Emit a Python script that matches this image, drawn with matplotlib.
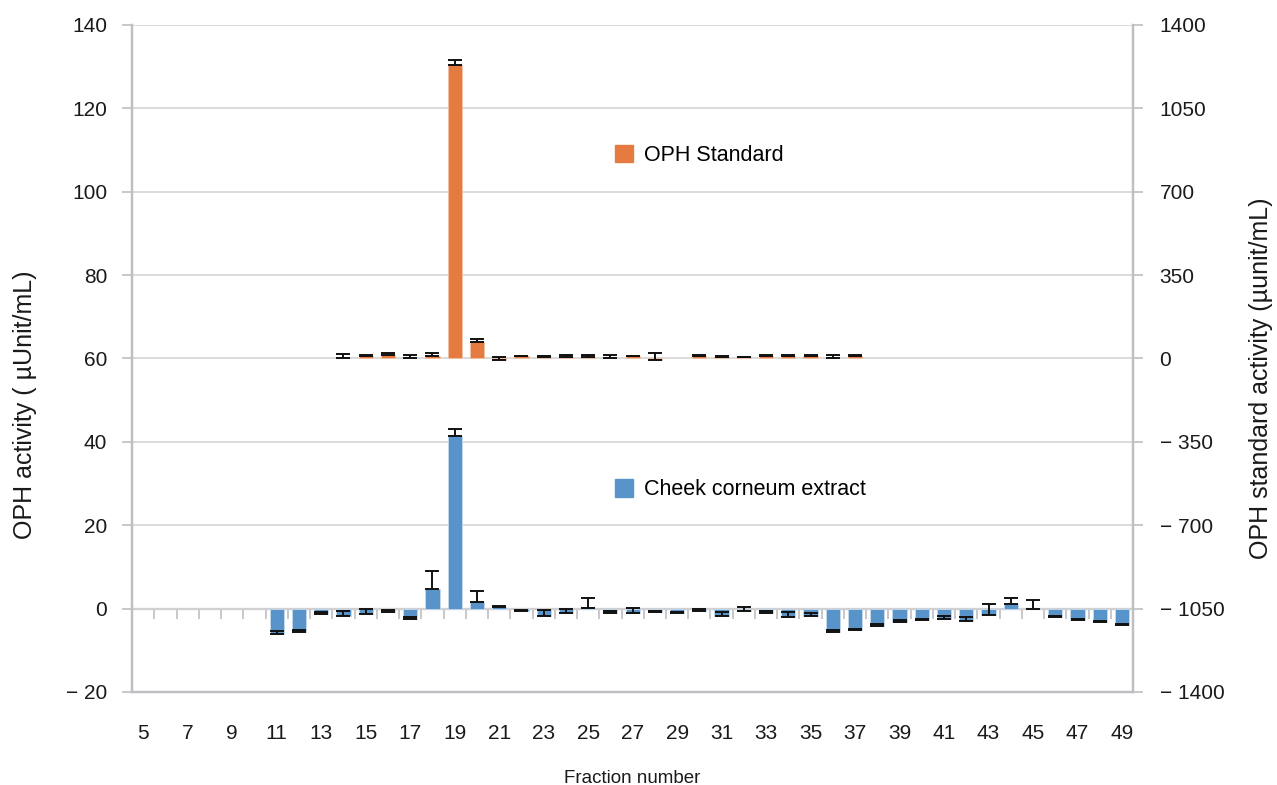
import numpy as np
import matplotlib
matplotlib.use("Agg")
import matplotlib.pyplot as plt
from matplotlib.patches import Patch
from matplotlib.ticker import FixedLocator, FuncFormatter, NullFormatter

plt.rcParams['font.family'] = ['Liberation Sans', 'DejaVu Sans']

fractions = list(range(5, 50))
nan = np.nan

# Cheek corneum extract, left axis (µUnit/mL), fractions 5..49
cheek = [nan, nan, nan, nan, nan, nan,
         -6.0, -5.5, -1.2, -1.8, -1.2, -0.8, -2.4, 4.6, 41.3, 1.7,
         0.3, -0.5, -1.8, -1.0, 0.2, -1.0, -1.0, -0.8, -1.0, -0.5,
         -1.8, -0.6, -1.0, -2.0, -1.8, -5.6, -5.1, -4.2, -3.3, -2.7,
         -2.4, -3.0, -1.5, 1.0, 0.0, -2.0, -2.8, -3.2, -3.9]
cheek_err = [0, 0, 0, 0, 0, 0,
             0.6, 0.3, 0.4, 1.3, 1.2, 0.5, 0.3, 4.4, 1.9, 2.6,
             0.4, 0.2, 1.4, 1.0, 2.4, 0.5, 1.1, 0.2, 0.3, 0.3,
             1.0, 0.9, 0.4, 1.1, 0.8, 0.4, 0.3, 0.4, 0.6, 0.2,
             0.6, 1.0, 2.5, 1.6, 2.1, 0.2, 0.2, 0.2, 0.2]

# OPH standard, right axis, fractions 5..49
standard = [nan] * 9 + [
    3, 10, 15, 3, 11, 1232, 70, -6, 11, 8, 7, 7, 3, 10, -5, nan,
    11, 8, 5, 11, 11, 11, 4, 11] + [nan] * 12
standard_err = [0] * 9 + [
    15, 3, 7, 10, 13, 22, 13, 14, 1, 2, 8, 7, 12, 2, 27, 0,
    3, 2, 2, 2, 2, 2, 11, 4] + [0] * 12

left_ticks = [-20, 0, 20, 40, 60, 80, 100, 120, 140]
right_ticks = [-1400, -1050, -700, -350, 0, 350, 700, 1050, 1400]
x_labels = list(range(5, 50, 2))

blue = '#5894CA'
orange = '#E67B42'
grey = '#BFBFC3'
text_col = '#1a1a1a'

x = np.array(fractions)
cheek = np.array(cheek)
standard = np.array(standard)

fig = plt.figure(figsize=(12.77, 7.85), dpi=100)
ax = fig.add_axes([0.1034, 0.1185, 0.784, 0.8497])
ax2 = ax.twinx()

ax.set_xlim(4.5, 49.5)
ax.set_ylim(-20, 140)
ax2.set_ylim(-1400, 1400)

ax.grid(axis='y', color='#D4D4D6', lw=1.2, zorder=0)
ax.set_axisbelow(True)

ax.bar(x, cheek, width=0.64, color=blue, edgecolor='#C5DAEE', lw=0.6, zorder=2)
ax.errorbar(x, cheek, yerr=[np.zeros(len(x)), cheek_err], fmt='none',
            ecolor='#111111', elinewidth=1.4, capsize=5, capthick=1.4, zorder=3)

ax2.bar(x, standard, width=0.64, color=orange, edgecolor='#F3C3A6', lw=0.6, zorder=2)
ax2.errorbar(x, standard, yerr=[np.zeros(len(x)), standard_err], fmt='none',
             ecolor='#111111', elinewidth=1.4, capsize=5, capthick=1.4, zorder=3)

# spines
for a in (ax, ax2):
    for s in a.spines.values():
        s.set_color(grey)
        s.set_linewidth(1.6)
    a.spines['top'].set_visible(False)

def fmt(v, pos):
    return ('\u2212 ' + '%d' % abs(v)) if v < 0 else '%d' % v

ax.yaxis.set_major_locator(FixedLocator(left_ticks))
ax2.yaxis.set_major_locator(FixedLocator(right_ticks))
ax.yaxis.set_major_formatter(FuncFormatter(fmt))
ax2.yaxis.set_major_formatter(FuncFormatter(fmt))
ax.tick_params(axis='y', direction='out', length=7, width=1.2, color=grey,
               labelsize=15, labelcolor=text_col, pad=11)
ax2.tick_params(axis='y', direction='out', length=7, width=1.2, color=grey,
                labelsize=15, labelcolor=text_col, pad=12)

ax.set_xticks(x_labels)
ax.tick_params(axis='x', length=0, labelsize=15, labelcolor=text_col, pad=23)

# category axis crossing at zero, ticks between categories
zero_axis = ax.secondary_xaxis(0.125)
zero_axis.set_xticks(np.array(fractions[:-1]) + 0.5)
zero_axis.xaxis.set_major_formatter(NullFormatter())
zero_axis.tick_params(axis='x', direction='out', length=7, width=1.2, color=grey,
                      labelbottom=False, labeltop=False)
zero_axis.spines['bottom'].set_color(grey)
zero_axis.spines['bottom'].set_linewidth(1.6)

ax.set_xlabel('Fraction number', fontsize=13.5, color=text_col)
ax.xaxis.set_label_coords(0.5, -0.117)
ax.set_ylabel('OPH activity ( \u00b5Unit/mL)', fontsize=18, color=text_col)
ax.yaxis.set_label_coords(-0.095, 0.43)
ax2.set_ylabel('OPH standard activity (\u00b5unit/mL)', fontsize=18, color=text_col)
ax2.yaxis.set_label_coords(1.116, 0.47)

leg1 = ax2.legend(handles=[Patch(color=orange, label='OPH Standard')],
                  loc='center left', bbox_to_anchor=(0.463, 0.805), frameon=False,
                  fontsize=15.5, handlelength=0.85, handleheight=0.85, handletextpad=0.5)
leg2 = ax2.legend(handles=[Patch(color=blue, label='Cheek corneum extract')],
                  loc='center left', bbox_to_anchor=(0.463, 0.303), frameon=False,
                  fontsize=15.5, handlelength=0.85, handleheight=0.85, handletextpad=0.5)
ax2.add_artist(leg1)

fig.savefig('out.png', dpi=100)
